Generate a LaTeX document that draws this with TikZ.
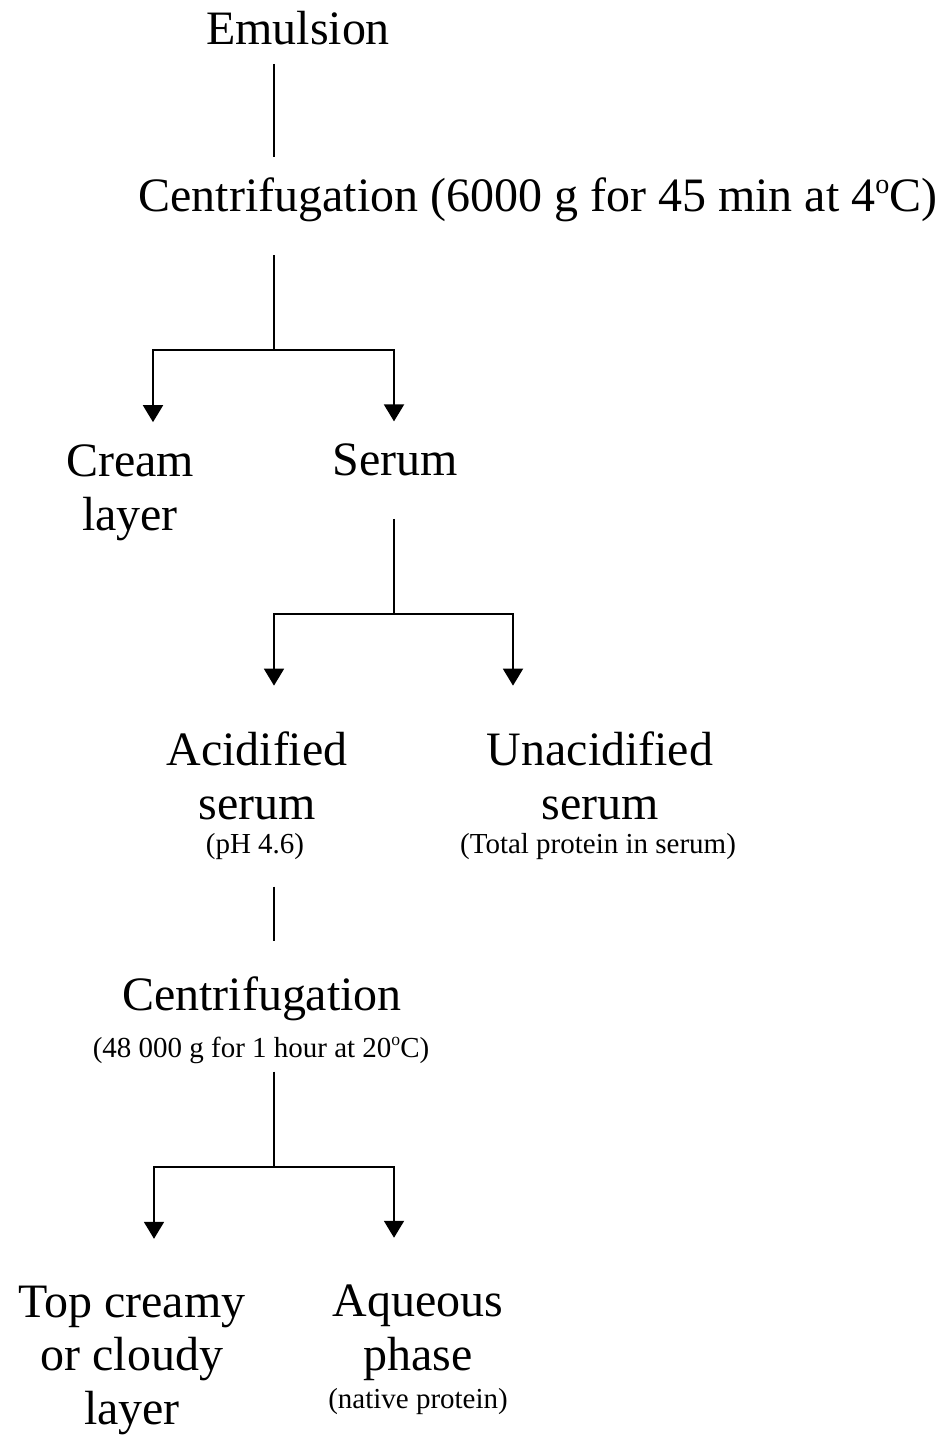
\documentclass[tikz,border=0pt]{standalone}
\usepackage{fontspec}
\setmainfont{Liberation Serif}
\usetikzlibrary{arrows.meta}

\tikzset{
  big/.style={font={\fontsize{27.3}{30.3}\selectfont}, inner sep=0pt, align=center, anchor=base},
  small/.style={font={\fontsize{16.5}{19}\selectfont}, inner sep=0pt, anchor=base},
  link/.style={line width=1pt},
  arr/.style={line width=1.1pt, -{Triangle[width=0.40cm,length=0.34cm]}}
}

\begin{document}
\begin{tikzpicture}[x=0.02cm,y=-0.02cm]
    \useasboundingbox (0,0) rectangle (945,1435);

    % First centrifugation:
    \node[big] (emul) at (298,45) {Emulsion};
    \node[big] (cen1) at (538,212) {Centrifugation (6000 g for 45 min at 4\raisebox{0.38em}{\fontsize{16}{16}\selectfont o}C)};
    \coordinate (j1) at (274,350);
    \coordinate (j1l) at (153,350);
    \coordinate (j1r) at (394,350);
    \draw[link, shorten <=0.36cm, shorten >=0.42cm] (emul.south -| j1) -- (cen1.north -| j1);
    \draw[link, shorten <=0.65cm] (cen1.south -| j1) -- (j1);

    % (base of a two-line node is its last line)
    \node[big] (cream) at (130,530) {Cream\\layer};
    \node[big] (serum) at (395,476) {Serum};
    \draw[arr, shorten >=0.45cm] (j1) -| (cream.north -| j1l);
    \draw[arr, shorten >=0.45cm] (j1) -| (serum.north -| j1r);

    % Serum split:
    \coordinate (j2) at (394,614);
    \coordinate (j2l) at (274,614);
    \coordinate (j2r) at (513,614);
    \draw[link, shorten <=0.84cm] (serum.south -| j2) -- (j2);

    \node[big] (acid) at (257,819) {Acidified\\serum};
    \node[small] (ph) at (255,853) {(pH 4.6)};
    \node[big] (unacid) at (600,819) {Unacidified\\serum};
    \node[small] (total) at (598,853) {(Total protein in serum)};
    \draw[arr, shorten >=0.92cm] (j2) -| (acid.north -| j2l);
    \draw[arr, shorten >=0.92cm] (j2) -| (unacid.north -| j2r);

    % Second centrifugation:
    \node[big] (cen2) at (262,1010) {Centrifugation};
    \node[small] (cond2) at (261,1057) {(48 000 g for 1 hour at 20\raisebox{0.38em}{\fontsize{10}{10}\selectfont o}C)};
    \coordinate (j3) at (274,1167);
    \coordinate (j3l) at (154,1167);
    \coordinate (j3r) at (394,1167);
    \draw[link, shorten <=0.54cm, shorten >=0.70cm] (ph.south -| j3) -- (cen2.north -| j3);
    \draw[link, shorten <=0.16cm] (cond2.south -| j3) -- (j3);

    \node[big] (top) at (132,1424) {Top creamy\\or cloudy\\layer};
    \node[big] (aq) at (418,1370) {Aqueous\\phase};
    \node[small] (native) at (418,1408) {(native protein)};
    \draw[arr, shorten >=0.94cm] (j3) -| (top.north -| j3l);
    \draw[arr, shorten >=0.94cm] (j3) -| (aq.north -| j3r);
\end{tikzpicture}
\end{document}
